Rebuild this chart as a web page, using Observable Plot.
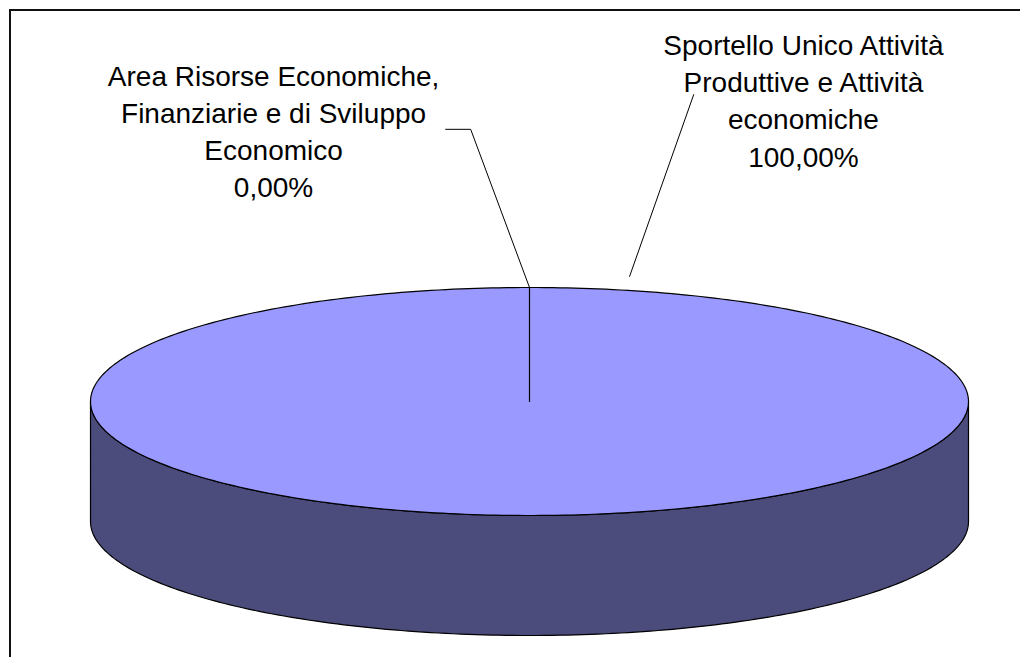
<!DOCTYPE html>
<html>
<head>
<meta charset="utf-8">
<script src="https://cdn.jsdelivr.net/npm/d3@7"></script>
<script src="https://cdn.jsdelivr.net/npm/@observablehq/plot@0.6"></script>
<style>
  html, body { margin: 0; padding: 0; background: #fff; }
  #wrap { position: relative; width: 1020px; height: 657px; overflow: hidden; }
  #border { position: absolute; left: 9px; top: 9px; width: 1040px; height: 700px;
            border-left: 2px solid #111; border-top: 2px solid #111; pointer-events: none; }
</style>
</head>
<body>
<div id="wrap"><div id="border"></div></div>
<script>
// ---- data ----
const categories = [
  "Area Risorse Economiche,\nFinanziarie e di Sviluppo\nEconomico",
  "Sportello Unico Attività\nProduttive e Attività\neconomiche"
];
const values = [0, 100];

// ---- layout / style ----
const W = 1020, H = 657;
const center = {px: 529, py: 401};
const radiusPx = 439;          // horizontal radius of the disc in px
const tilt = 114 / 439;        // vertical squash of the top ellipse
const depth = 120 / 439;       // thickness of the disc
const topColor = "#9999FF";
const sideColor = "#4B4B7C";
const fontSize = 28;
// label anchors (pie units: radius = 1)
const labelPos = [{x: -0.583, y: 0.780}, {x: 0.624, y: 0.850}];
const leaderStart = [[{x: -0.191, y: 0.620}, {x: -0.134, y: 0.620}], [{x: 0.374, y: 0.699}]];
const leaderEnd = [null, {x: 0.228, y: 0.285}];

const itLocale = d3.formatLocale({decimal: ",", thousands: ".", grouping: [3], currency: ["€", ""]});
const pct = itLocale.format(".2%");

const total = d3.sum(values);
const arcs = d3.pie().sort(null).value(d => d)(values);
const pt = a => ({x: Math.sin(a), y: tilt * Math.cos(a)});

const tops = [], sides = [];
arcs.forEach((a, i) => {
  const n = Math.max(2, Math.ceil((a.endAngle - a.startAngle) / (Math.PI / 180)));
  tops.push({slice: i, x: 0, y: 0});
  for (let k = 0; k <= n; k++) {
    const p = pt(a.startAngle + (a.endAngle - a.startAngle) * k / n);
    tops.push({slice: i, ...p});
  }
  tops.push({slice: i, x: 0, y: 0});
  // front side portion
  const s = Math.max(a.startAngle, Math.PI / 2), e = Math.min(a.endAngle, 3 * Math.PI / 2);
  if (e > s) {
    const m = Math.max(2, Math.ceil((e - s) / (Math.PI / 180)));
    const upper = [], lower = [];
    for (let k = 0; k <= m; k++) {
      const p = pt(s + (e - s) * k / m);
      upper.push({slice: i, x: p.x, y: p.y});
      lower.push({slice: i, x: p.x, y: p.y - depth});
    }
    sides.push(...upper, ...lower.reverse(), upper[0]);
  }
});

const leaders = [];
arcs.forEach((a, i) => {
  const mid = (a.startAngle + a.endAngle) / 2;
  const end = leaderEnd[i] || pt(mid);
  [...leaderStart[i], end].forEach(p => leaders.push({slice: i, x: p.x, y: p.y}));
});

const labels = arcs.map((a, i) => ({
  x: labelPos[i].x, y: labelPos[i].y,
  text: categories[i] + "\n" + pct(values[i] / total)
}));

const chart = Plot.plot({
  width: W, height: H,
  margin: 0,
  style: {background: "transparent", fontFamily: "'Liberation Sans', Arial, sans-serif"},
  x: {domain: [-center.px / radiusPx, (W - center.px) / radiusPx], range: [0, W], axis: null},
  y: {domain: [(center.py - H) / radiusPx, center.py / radiusPx], range: [H, 0], axis: null},
  marks: [
    Plot.line(sides, {x: "x", y: "y", z: "slice", fill: sideColor, stroke: "#000", strokeWidth: 1.2, curve: "linear"}),
    Plot.line(tops, {x: "x", y: "y", z: "slice", fill: topColor, stroke: "#000", strokeWidth: 1.2, curve: "linear"}),
    Plot.line(leaders, {x: "x", y: "y", z: "slice", stroke: "#000", strokeWidth: 1}),
    Plot.text(labels, {x: "x", y: "y", text: "text", lineAnchor: "top", textAnchor: "middle",
      fontSize: fontSize, lineHeight: 1.33, fill: "#000"})
  ]
});
document.getElementById("wrap").prepend(chart);
chart.style.position = "absolute";
chart.style.left = "0";
chart.style.top = "0";
</script>
</body>
</html>
